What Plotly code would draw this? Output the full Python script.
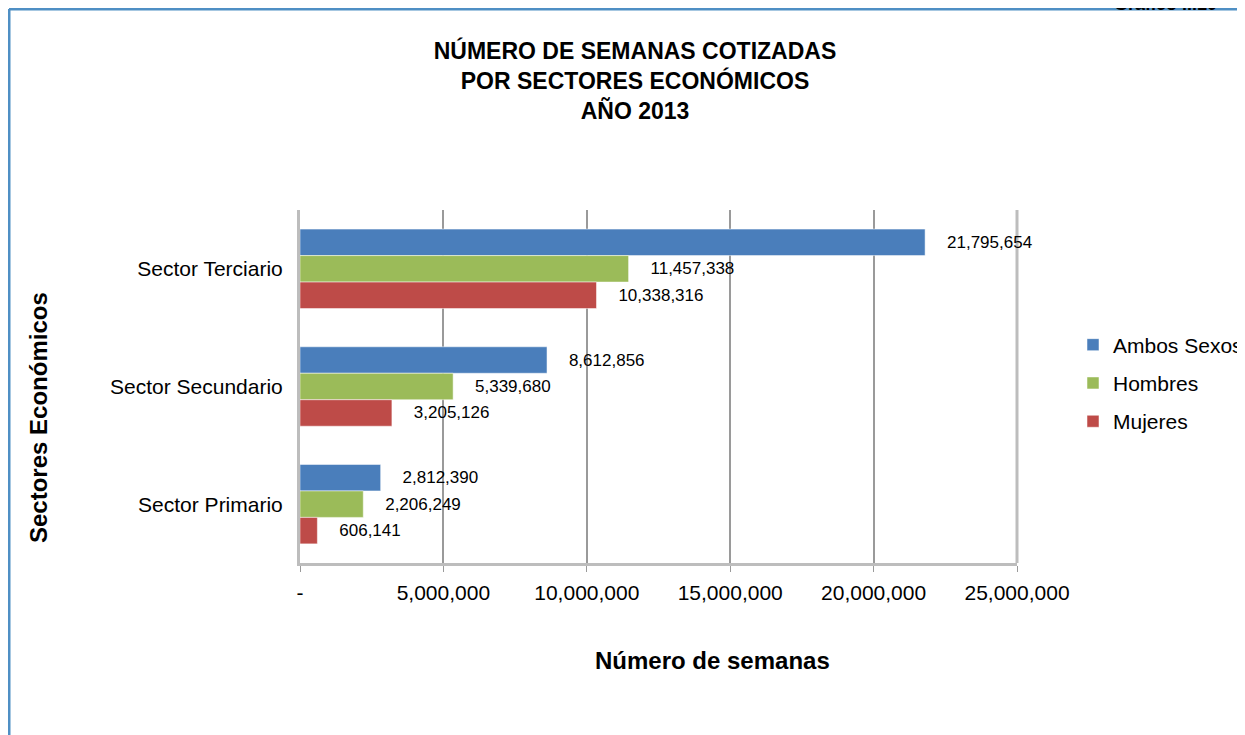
import plotly.graph_objects as go

# Data (top to bottom)
sectores = ["Sector Terciario", "Sector Secundario", "Sector Primario"]
ambos_sexos = [21795654, 8612856, 2812390]
hombres = [11457338, 5339680, 2206249]
mujeres = [10338316, 3205126, 606141]

tick_vals = [0, 5000000, 10000000, 15000000, 20000000, 25000000]
tick_text = ["-", "5,000,000", "10,000,000", "15,000,000", "20,000,000", "25,000,000"]

# the page body has an 8px margin, so the figure is sized/placed in its own coords
OFF = 8
W, H = 1245 - OFF, 735 - OFF
L, R, T, B = 292, 228, 202, 172
PW, PH = W - L - R, H - T - B


def px_x(p):
    # screen pixel -> paper x
    return (p - OFF - L) / PW


def px_y(p):
    # screen pixel -> paper y
    return (H - B - (p - OFF)) / PH


FONT = "Liberation Sans, Arial, sans-serif"
NB = "\u00a0" * 4

series = [
    ("Ambos Sexos", ambos_sexos, "#4a7ebb"),
    ("Hombres", hombres, "#9bbb59"),
    ("Mujeres", mujeres, "#be4b48"),
]

fig = go.Figure()
for name, vals, color in series:
    fig.add_trace(
        go.Bar(
            y=sectores,
            x=vals,
            name=name,
            orientation="h",
            legendgroup=name,
            marker=dict(color=color, line=dict(color="rgba(255,255,255,0.5)", width=1)),
            text=[NB + f"{v:,}" for v in vals],
            textposition="outside",
            textfont=dict(family=FONT, size=17, color="#000000"),
            cliponaxis=False,
        )
    )

fig.update_layout(
    width=W,
    height=H,
    margin=dict(l=L, r=R, t=T, b=B, autoexpand=False),
    paper_bgcolor="white",
    plot_bgcolor="white",
    barmode="group",
    bargap=0.325,
    bargroupgap=0,
    font=dict(family=FONT, color="#000000"),
    title=dict(
        text="<b>NÚMERO DE SEMANAS COTIZADAS<br>POR SECTORES ECONÓMICOS<br>AÑO 2013</b>",
        x=(635 - OFF) / W,
        xanchor="center",
        y=1 - 51 / H,
        yanchor="top",
        font=dict(family=FONT, size=23, color="#000000"),
    ),
    legend=dict(
        x=px_x(1073),
        y=px_y(383),
        xanchor="left",
        yanchor="middle",
        traceorder="grouped",
        tracegroupgap=8,
        itemwidth=30,
        font=dict(family=FONT, size=21, color="#000000"),
        bgcolor="rgba(0,0,0,0)",
    ),
    xaxis=dict(
        range=[0, 25000000],
        tickvals=tick_vals,
        ticktext=tick_text,
        showgrid=True,
        gridcolor="#9a9a9a",
        gridwidth=1.5,
        zeroline=False,
        showline=True,
        linecolor="#bdbdbd",
        linewidth=3,
        ticks="outside",
        ticklen=6,
        tickcolor="#9a9a9a",
        ticklabelstandoff=3,
        tickfont=dict(family=FONT, size=21, color="#000000"),
    ),
    yaxis=dict(
        autorange="reversed",
        showgrid=False,
        zeroline=False,
        showline=True,
        linecolor="#bdbdbd",
        linewidth=3,
        ticks="",
        ticklabelstandoff=10,
        tickfont=dict(family=FONT, size=21, color="#000000"),
    ),
    showlegend=True,
)

# right border of plot area (light gray, like the 25M gridline)
fig.add_shape(type="line", xref="paper", yref="paper", x0=1, x1=1, y0=0, y1=1,
              line=dict(color="#bdbdbd", width=3), layer="below")

# blue frame of the original page
fig.add_shape(type="line", xref="paper", yref="paper",
              x0=px_x(9), x1=px_x(9), y0=px_y(9), y1=px_y(745),
              line=dict(color="#4f8fc4", width=3))
fig.add_shape(type="line", xref="paper", yref="paper",
              x0=px_x(9), x1=px_x(1250), y0=px_y(9), y1=px_y(9),
              line=dict(color="#4f8fc4", width=3))

fig.add_annotation(
    text="<b>Sectores Económicos</b>", xref="paper", yref="paper",
    x=px_x(38), y=px_y(418), xanchor="center", yanchor="middle",
    textangle=-90, showarrow=False,
    font=dict(family=FONT, size=24, color="#000000"),
)
fig.add_annotation(
    text="<b>Número de semanas</b>", xref="paper", yref="paper",
    x=px_x(712), y=px_y(660), xanchor="center", yanchor="middle", showarrow=False,
    font=dict(family=FONT, size=24, color="#000000"),
)
fig.add_annotation(
    text="<b>Gráfico II.10</b>", xref="paper", yref="paper",
    x=px_x(1112), y=px_y(16), xanchor="left", yanchor="bottom", showarrow=False,
    font=dict(family=FONT, size=18, color="#000000"),
)

fig.write_html("out.html")
